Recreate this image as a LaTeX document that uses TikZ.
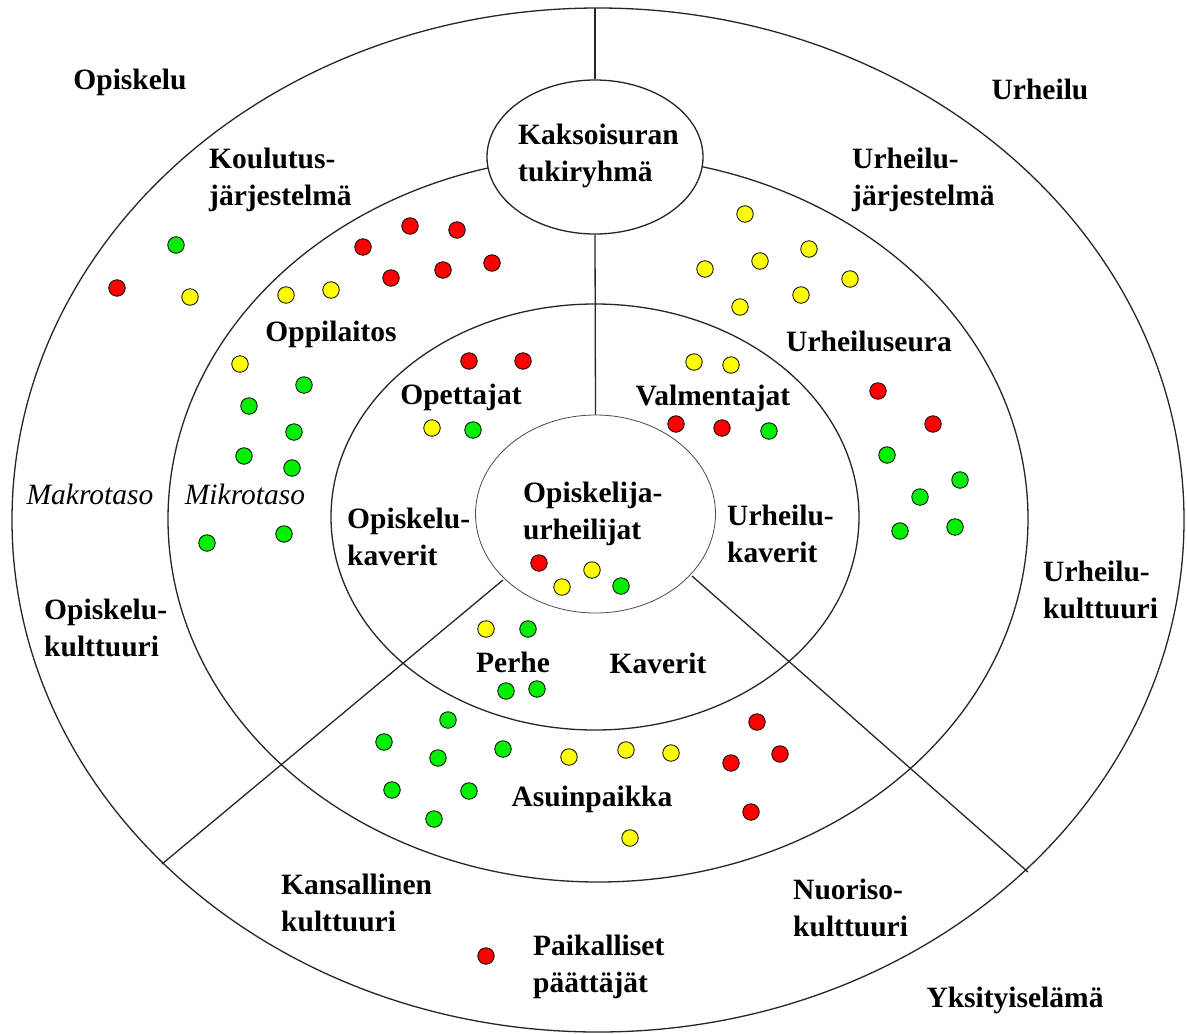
\documentclass[tikz,border=0pt]{standalone}
\usepackage{fontspec}
\setmainfont{Liberation Serif}
\usetikzlibrary{shapes.geometric}
\definecolor{dred}{RGB}{255,0,0}
\definecolor{dyel}{RGB}{255,255,0}
\definecolor{dgrn}{RGB}{0,240,0}
\begin{document}
\begin{tikzpicture}[x=1pt,y=-1pt,
  ring/.style={draw=black!85, line width=1.3pt},
  lbl/.style={font=\bfseries\fontsize{29.5}{37}\selectfont, inner sep=0pt, align=left},
  ilbl/.style={font=\itshape\fontsize{29.5}{37}\selectfont, inner sep=0pt},
  dot/.style={circle, draw=black, line width=0.8pt, minimum size=16.5pt, inner sep=0pt},
  rdot/.style={dot, fill=dred},
  ydot/.style={dot, fill=dyel},
  gdot/.style={dot, fill=dgrn}]
\useasboundingbox (0,0) rectangle (1187,1034);
\fill[white] (0,0) rectangle (1187,1034);
% rings
\draw[ring] (598,520) ellipse [x radius=586pt, y radius=512pt];
\draw[ring] (598,519) ellipse [x radius=430pt, y radius=363pt];
\draw[ring] (595,517) ellipse [x radius=264pt, y radius=213pt];
% sector lines
\coordinate (topend) at (595,8);
\coordinate (dlin) at (503,580);
\coordinate (dlout) at (162,864);
\coordinate (drin) at (692,576);
\coordinate (drout) at (1028,872);
\draw[ring] (dlin) -- (dlout);
\draw[ring] (drin) -- (drout);
% support group ellipse
\node[ellipse, ring, fill=white, minimum width=216pt, minimum height=154pt, inner sep=0pt] (kt) at (595,157) {};
% centre ellipse
\node[ellipse, draw=black!70, line width=0.8pt, fill=white, minimum width=240pt, minimum height=198pt, inner sep=0pt] (oc) at (595.5,514) {};
\draw[ring] (topend) -- (kt.north);
\draw[ring] (kt.south) -- (oc.north);
% labels
\node[lbl, anchor=base] (t1) at (130,89) {Opiskelu};
\node[lbl, anchor=base] (t2) at (1040,99) {Urheilu};
\node[lbl, anchor=north west] (t3) at (209,148) {Koulutus-\\järjestelmä};
\node[lbl, anchor=north west] (t4) at (852,148) {Urheilu-\\järjestelmä};
\node[lbl, anchor=north west] (t5) at (518,124) {Kaksoisuran\\tukiryhmä};
\node[lbl, anchor=base] (t6) at (331,341) {Oppilaitos};
\node[lbl, anchor=base] (t7) at (869,351) {Urheiluseura};
\node[lbl, anchor=base] (t8) at (461,404) {Opettajat};
\node[lbl, anchor=base] (t9) at (713,405) {Valmentajat};
\node[ilbl, anchor=base] (t10) at (90,504) {Makrotaso};
\node[ilbl, anchor=base] (t11) at (245,504) {Mikrotaso};
\node[lbl, anchor=north west] (t12) at (347,508) {Opiskelu-\\kaverit};
\node[lbl, anchor=north west] (t13) at (523,482) {Opiskelija-\\urheilijat};
\node[lbl, anchor=north west] (t14) at (727,505) {Urheilu-\\kaverit};
\node[lbl, anchor=north west] (t15) at (44,599) {Opiskelu-\\kulttuuri};
\node[lbl, anchor=north west] (t16) at (1043,561) {Urheilu-\\kulttuuri};
\node[lbl, anchor=base] (t17) at (513,672) {Perhe};
\node[lbl, anchor=base] (t18) at (658,673) {Kaverit};
\node[lbl, anchor=base] (t19) at (592,806) {Asuinpaikka};
\node[lbl, anchor=north west] (t20) at (281,874) {Kansallinen\\kulttuuri};
\node[lbl, anchor=north west] (t21) at (793,879) {Nuoriso-\\kulttuuri};
\node[lbl, anchor=north west] (t22) at (533,935) {Paikalliset\\päättäjät};
\node[lbl, anchor=base] (t23) at (1015,1007) {Yksityiselämä};
% dots
\foreach \p [count=\i] in {(117,288),(363,247),(410,226),(457,230),(391,278),(443,270),(492,263),(469,361),(523,361),(676,424),(722,428),(878,391),(933,424),(539,563),(757,722),(731,763),(780,754),(751,812),(486,956)}
  \node[rdot] (r\i) at \p {};
\foreach \p [count=\i] in {(190,297),(286,295),(331,290),(240,364),(432,428),(694,362),(731,365),(745,214),(705,269),(760,261),(809,249),(850,279),(740,307),(801,295),(562,587),(592,570),(569,757),(626,750),(671,753),(630,838),(486,629)}
  \node[ydot] (y\i) at \p {};
\foreach \p [count=\i] in {(176,245),(304,385),(249,406),(294,432),(244,456),(292,468),(207,543),(284,534),(473,430),(769,431),(887,455),(960,480),(920,497),(900,531),(955,527),(621,586),(528,629),(506,691),(537,689),(448,720),(384,742),(438,758),(503,749),(392,790),(469,791),(434,819)}
  \node[gdot] (g\i) at \p {};
\end{tikzpicture}
\end{document}
